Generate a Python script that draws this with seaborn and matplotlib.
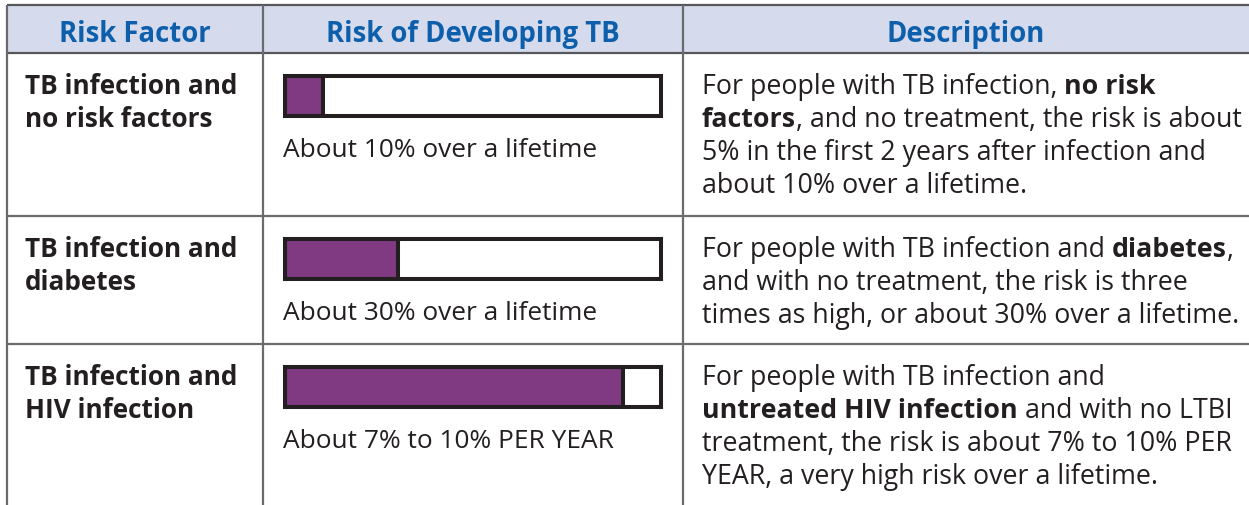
import matplotlib
matplotlib.use("Agg")
import matplotlib.pyplot as plt
import seaborn as sns
import pandas as pd
from matplotlib.patches import Rectangle

# table content
headers = ["Risk Factor", "Risk of Developing TB", "Description"]
risk_factors = ["TB infection and\nno risk factors",
                "TB infection and\ndiabetes",
                "TB infection and\nHIV infection"]
risk_values = [10, 30, 90]  # filled part of each bar, percent of the box
risk_captions = ["About 10% over a lifetime",
                 "About 30% over a lifetime",
                 "About 7% to 10% PER YEAR"]
# description lines as (text, bold) pieces
descriptions = [
    [[("For people with TB infection, ", False), ("no risk", True)],
     [("factors", True), (", and no treatment, the risk is about", False)],
     [("5% in the first 2 years after infection and", False)],
     [("about 10% over a lifetime.", False)]],
    [[("For people with TB infection and ", False), ("diabetes", True), (",", False)],
     [("and with no treatment, the risk is three", False)],
     [("times as high, or about 30% over a lifetime.", False)]],
    [[("For people with TB infection and", False)],
     [("untreated HIV infection", True), (" and with no LTBI", False)],
     [("treatment, the risk is about 7% to 10% PER", False)],
     [("YEAR, a very high risk over a lifetime.", False)]],
]

# colours
head_bg = "#d5dbec"
head_fg = "#0d5fac"
ink = "#231f20"
grid = "#6a6b6e"
purple = "#7f3a81"

plt.rcParams['font.family'] = ['Open Sans', 'DejaVu Sans']

W, H = 1249, 506
col_x = [7, 263, 683]
row_y = [6, 54, 217, 345]

fig = plt.figure(figsize=(W / 100, H / 100), dpi=100)
ax = fig.add_axes([0, 0, 1, 1])
ax.set_xlim(0, W)
ax.set_ylim(H, 0)
ax.axis("off")
renderer = fig.canvas.get_renderer()


def text_width(s, size, weight):
    t = ax.text(0, 0, s, fontsize=size, fontweight=weight)
    w = t.get_window_extent(renderer).width
    t.remove()
    return w


def fit_size(s, target_px, weight):
    return 10 * target_px / text_width(s, 10, weight)


body_size = fit_size("About 10% over a lifetime", 315, "normal")
desc_size = fit_size("times as high, or about 30% over a lifetime.", 537, "normal")
label_size = fit_size("TB infection and", 213, "bold")
head_size = fit_size("Risk Factor", 152, "bold")


def draw_pieces(x, y, pieces, size):
    for text, bold in pieces:
        w = "bold" if bold else "normal"
        ax.text(x, y, text, fontsize=size, fontweight=w, color=ink, va="baseline")
        x += text_width(text + "x", size, w) - text_width("x", size, w)


# header band and grid lines
ax.add_patch(Rectangle((col_x[0], row_y[0]), W - col_x[0], row_y[1] - row_y[0],
                       color=head_bg, lw=0))
ax.hlines(row_y[:2], col_x[0], W, color="#55575a", lw=1.6)
ax.hlines(row_y[2:], col_x[0], W, color=grid, lw=1.6)
ax.vlines(col_x, row_y[0], H, color=grid, lw=1.6)

edges = col_x + [W]
for i, head in enumerate(headers):
    ax.text((edges[i] + edges[i + 1]) / 2, 42, head, ha="center", va="baseline",
            fontsize=head_size, fontweight="bold", color=head_fg)

for i, value in enumerate(risk_values):
    top = row_y[i + 1]

    for k, line in enumerate(risk_factors[i].split("\n")):
        ax.text(25, top + 40 + 33 * k, line, fontsize=label_size,
                fontweight="bold", color=ink, va="baseline")

    # the risk bar, drawn by seaborn in its own little axes
    bax = fig.add_axes([285 / W, 1 - (top + 63) / H, 376 / W, 40 / H])
    df = pd.DataFrame({"risk": [value], "row": [risk_factors[i]]})
    sns.barplot(data=df, x="risk", y="row", orient="h", width=1, color=purple,
                saturation=1, edgecolor=ink, linewidth=2.9, ax=bax)
    bax.set_xlim(0, 100)
    bax.set_ylim(0.5, -0.5)
    bax.set(xlabel=None, ylabel=None, xticks=[], yticks=[])
    bax.set_facecolor("white")
    for s in bax.spines.values():
        s.set_linewidth(2.9)
        s.set_color(ink)

    ax.text(283, top + 103, risk_captions[i], fontsize=body_size, color=ink,
            va="baseline")

    for k, pieces in enumerate(descriptions[i]):
        draw_pieces(702, top + 40 + 33 * k, pieces, desc_size)

fig.savefig("out.png", dpi=100)
